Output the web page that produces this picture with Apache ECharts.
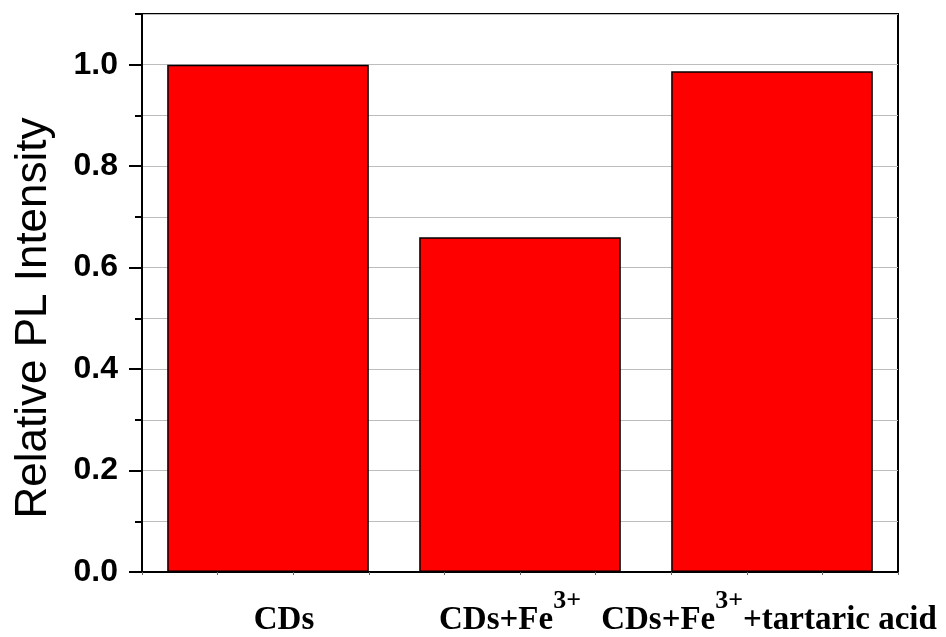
<!DOCTYPE html>
<html>
<head>
<meta charset="utf-8">
<script src="https://cdn.jsdelivr.net/npm/echarts@6/dist/echarts.min.js"></script>
<style>
html,body{margin:0;padding:0;background:#fff;}
#chart{width:946px;height:637px;}
</style>
</head>
<body>
<div id="chart"></div>
<script>
// Data
var categories = ['CDs', 'CDs+Fe3+', 'CDs+Fe3++tartaric acid'];
var categoryLabels = ['{bl|CDs}', '{b|CDs+Fe}{supr|3+}', '{b|CDs+Fe}{sup|3+}{br|+tartaric acid}'];
var intensity = [1.0, 0.66, 0.987];
var yMajorTicks = [0, 0.2, 0.4, 0.6, 0.8, 1.0];
var yAxisTitle = 'Relative PL Intensity';

var mainFont = { fontFamily: 'Liberation Serif', fontWeight: 'bold', fontSize: 33, lineHeight: 65, color: '#000' };
var supFont = { fontFamily: 'Liberation Serif', fontWeight: 'bold', fontSize: 26, lineHeight: 26, verticalAlign: 'top', color: '#000' };

var chart = echarts.init(document.getElementById('chart'));
chart.setOption({
  animation: false,
  backgroundColor: '#fff',
  grid: {
    left: 142, right: 48, top: 14, bottom: 65,
    show: true, borderColor: '#000', borderWidth: 2
  },
  xAxis: [{
    type: 'category',
    data: categories,
    position: 'bottom',
    axisLine: { lineStyle: { color: '#000', width: 2 } },
    axisTick: { alignWithLabel: true, length: 14, lineStyle: { color: '#000', width: 2 } },
    axisLabel: {
      interval: 0,
      margin: 16,
      formatter: function (v, i) { return categoryLabels[i]; },
      rich: {
        b: mainFont,
        bl: Object.assign({}, mainFont, { padding: [0, 0, 0, 32] }),
        br: Object.assign({}, mainFont, { padding: [0, 6, 0, 0] }),
        sup: supFont,
        supr: Object.assign({}, supFont, { padding: [0, 20, 0, 0] })
      }
    },
    splitLine: { show: false }
  }, {
    type: 'value',
    position: 'top',
    min: 0, max: 10, interval: 1,
    axisLine: { show: true, lineStyle: { color: '#000', width: 2 } },
    axisTick: { show: true, inside: true, length: 3, lineStyle: { color: '#666', width: 1 } },
    axisLabel: { show: false },
    splitLine: { show: false }
  }],
  yAxis: [{
    type: 'value',
    min: 0, max: 1.1, interval: 0.1,
    axisLine: { show: true, lineStyle: { color: '#000', width: 2 } },
    axisTick: { show: true, length: 7, lineStyle: { color: '#000', width: 2 } },
    axisLabel: { show: false },
    splitLine: { show: true, lineStyle: { color: '#bdbdbd', width: 1 } }
  }, {
    type: 'value',
    position: 'left',
    min: 0, max: 1.1,
    axisLine: { show: false },
    axisTick: { show: true, length: 13, customValues: yMajorTicks, lineStyle: { color: '#000', width: 2 } },
    axisLabel: {
      show: true,
      customValues: yMajorTicks,
      margin: 24,
      formatter: function (v) { return v.toFixed(1); },
      fontFamily: 'Liberation Sans', fontWeight: 'bold', fontSize: 32, color: '#000'
    },
    splitLine: { show: false },
    name: yAxisTitle,
    nameLocation: 'middle',
    nameGap: 86,
    nameTextStyle: { fontFamily: 'Liberation Sans', fontSize: 44, color: '#000', padding: [0, 50, 0, 0] }
  }],
  series: [{
    type: 'bar',
    xAxisIndex: 0,
    yAxisIndex: 0,
    data: intensity,
    barWidth: '80%',
    itemStyle: { color: '#ff0000', borderColor: '#000', borderWidth: 1.5 }
  }]
});
</script>
</body>
</html>
